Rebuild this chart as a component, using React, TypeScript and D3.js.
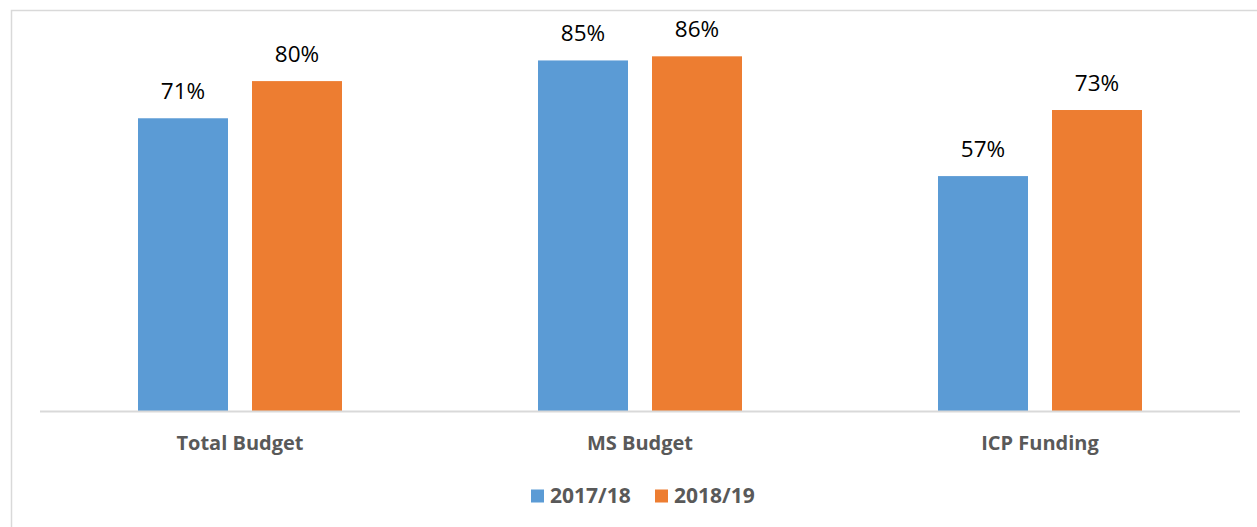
import React from "react";
import * as d3 from "d3";

const categories = ["Total Budget", "MS Budget", "ICP Funding"];
const seriesNames = ["2017/18", "2018/19"];
const values2017 = [71, 85, 57];
const values2018 = [80, 86, 73];
const colors = ["#5B9BD5", "#ED7D31"];

const W = 1257;
const H = 527;
const plot = { left: 40, right: 1240, top: -1.5, bottom: 411.5 };
const FONT = "'Open Sans', 'Liberation Sans', sans-serif";

const App = () => {
  const series = [values2017, values2018];

  const x0 = d3
    .scaleBand<string>()
    .domain(categories)
    .range([plot.left, plot.right])
    .padding(0);

  const x1 = d3
    .scaleBand<string>()
    .domain(seriesNames)
    .range([98, 302])
    .paddingInner(24 / 114)
    .paddingOuter(0);

  const y = d3.scaleLinear().domain([0, 100]).range([plot.bottom, plot.top]);

  return (
    <svg
      width={W}
      height={H}
      style={{ position: "absolute", left: 0, top: 0, display: "block", background: "#fff" }}
    >
      {/* chart area border, runs off the right and bottom edge */}
      <rect x={11.5} y={10.5} width={1400} height={700} fill="none" stroke="#D9D9D9" strokeWidth={1.5} />

      {categories.map((cat, ci) => (
        <g key={cat} transform={`translate(${x0(cat)},0)`}>
          {seriesNames.map((s, si) => {
            const v = series[si][ci];
            const bx = x1(s)!;
            return (
              <g key={s}>
                <rect
                  x={bx}
                  y={y(v)}
                  width={x1.bandwidth()}
                  height={y(0) - y(v)}
                  fill={colors[si]}
                />
                <text
                  x={bx + x1.bandwidth() / 2}
                  y={y(v) - 19}
                  textAnchor="middle"
                  fontFamily={FONT}
                  fontSize={22.5}
                  fill="#000"
                >
                  {v}%
                </text>
              </g>
            );
          })}
          <text
            x={x0.bandwidth() / 2}
            y={450}
            textAnchor="middle"
            fontFamily={FONT}
            fontWeight="bold"
            fontSize={20}
            fill="#595959"
          >
            {cat}
          </text>
        </g>
      ))}

      <line x1={plot.left} x2={plot.right} y1={411.5} y2={411.5} stroke="#D9D9D9" strokeWidth={2} />

      {/* legend */}
      {seriesNames.map((s, i) => {
        const lx = 531 + i * 124;
        return (
          <g key={s}>
            <rect x={lx} y={489.5} width={13} height={13} fill={colors[i]} />
            <text x={lx + 19} y={503} fontFamily={FONT} fontWeight="bold" fontSize={21} fill="#595959">
              {s}
            </text>
          </g>
        );
      })}
    </svg>
  );
};

export default App;
